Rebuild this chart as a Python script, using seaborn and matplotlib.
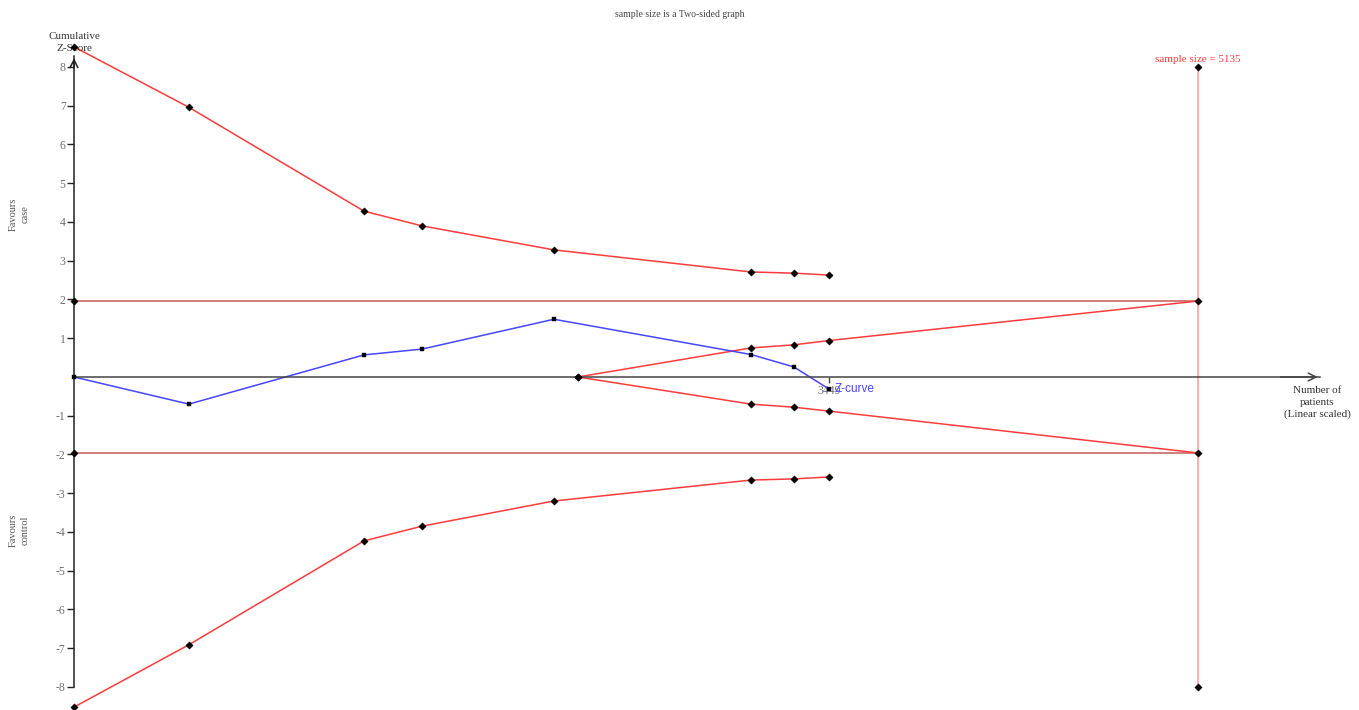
import matplotlib
matplotlib.use("Agg")
import matplotlib.pyplot as plt
import seaborn as sns

# Cumulative number of patients at each interim look
patients = [0, 525, 1325, 1590, 2193, 3093, 3289, 3449]
z_curve = [0, -0.70, 0.57, 0.72, 1.49, 0.58, 0.26, -0.31]

# Monitoring boundaries
upper_bound = [8.52, 6.96, 4.28, 3.90, 3.28, 2.71, 2.68, 2.63]
lower_bound = [-8.52, -6.91, -4.23, -3.85, -3.20, -2.66, -2.63, -2.58]

# Futility (inner wedge)
fut_patients = [2302, 3093, 3289, 3449, 5135]
fut_upper = [0, 0.75, 0.83, 0.94, 1.96]
fut_lower = [0, -0.70, -0.78, -0.88, -1.96]

sample_size = 5135
z_crit = 1.96
y_ticks = [-8, -7, -6, -5, -4, -3, -2, -1, 1, 2, 3, 4, 5, 6, 7, 8]
x_ticks = [3449]

sns.set_style("white")
plt.rcParams["font.family"] = ["Liberation Serif", "DejaVu Serif"]

fig = plt.figure(figsize=(13.59, 7.10), dpi=100)
ax = fig.add_axes([0, 0, 1, 1])
ax.set_xlim(-338, 5871)
ax.set_ylim(-8.594, 9.729)

red = "#ff3b3b"
dark_red = "#c85a5a"
pink = "#ff9a9a"
blue = "#4646ff"

# conventional boundaries and sample size line
ax.plot([0, sample_size], [z_crit, z_crit], color=dark_red, lw=1.1)
ax.plot([0, sample_size], [-z_crit, -z_crit], color=dark_red, lw=1.1)
ax.plot([sample_size, sample_size], [-8, 8], color=pink, lw=1.1)

# alpha spending boundaries
sns.lineplot(x=patients, y=upper_bound, ax=ax, color=red, lw=1.1, estimator=None, sort=False)
sns.lineplot(x=patients, y=lower_bound, ax=ax, color=red, lw=1.1, estimator=None, sort=False)
sns.lineplot(x=fut_patients, y=fut_upper, ax=ax, color=red, lw=1.1, estimator=None, sort=False)
sns.lineplot(x=fut_patients, y=fut_lower, ax=ax, color=red, lw=1.1, estimator=None, sort=False)

# Z-curve
sns.lineplot(x=patients, y=z_curve, ax=ax, color=blue, lw=1.1, estimator=None, sort=False)

# markers
pts_x = patients + patients + fut_patients + fut_patients + [0, 0, sample_size, sample_size]
pts_y = upper_bound + lower_bound + fut_upper + fut_lower + [z_crit, -z_crit, 8, -8]
sns.scatterplot(x=pts_x, y=pts_y, ax=ax, marker="D", s=14, color="black", edgecolor="black", zorder=5)
sns.scatterplot(x=patients, y=z_curve, ax=ax, marker="s", s=12, color="black", edgecolor="black", zorder=6)

# axes
for side in ["top", "right"]:
    ax.spines[side].set_visible(False)
ax.spines["left"].set_position(("data", 0))
ax.spines["bottom"].set_position(("data", 0))
ax.spines["left"].set_bounds(-8, 8.28)
ax.spines["bottom"].set_bounds(0, 5692)
ax.spines["left"].set_color("#222222")
ax.spines["bottom"].set_color("#444444")
ax.spines["left"].set_linewidth(1.1)
ax.spines["bottom"].set_linewidth(1.1)
ax.annotate("", xy=(0, 8.30), xytext=(0, 7.9),
            arrowprops=dict(arrowstyle="->", color="#222222", lw=1.1, mutation_scale=14))
ax.annotate("", xy=(5695, 0), xytext=(5500, 0),
            arrowprops=dict(arrowstyle="->", color="#444444", lw=1.1, mutation_scale=14))

ax.set_yticks(y_ticks)
ax.set_yticklabels([str(t) for t in y_ticks])
ax.set_xticks(x_ticks)
ax.set_xticklabels([str(t) for t in x_ticks])
ax.tick_params(axis="y", direction="out", length=5, width=1, color="#222222",
               labelcolor="#707070", labelsize=8.5, pad=1, left=True)
ax.tick_params(axis="x", direction="out", length=4, width=1, color="#444444",
               labelcolor="#707070", labelsize=8.5, pad=2, bottom=True)

# texts
fig.text(0.5, 0.979, "sample size is a Two-sided graph", ha="center", va="center",
         fontsize=7, color="#444444")
ax.text(0, 8.64, "Cumulative\nZ-Score", ha="center", va="center", fontsize=8,
        color="#333333", linespacing=1.4)
ax.text(5680, -0.66, "Number of\npatients\n(Linear scaled)", ha="center", va="center",
        fontsize=8, color="#333333", linespacing=1.4)
ax.text(sample_size, 8.2, "sample size = 5135", ha="center", va="center", fontsize=8, color=red)
ax.text(-250, 4.2, "Favours\ncase", ha="center", va="center", rotation=90, fontsize=7.5,
        color="#555555", linespacing=1.4)
ax.text(-250, -3.95, "Favours\ncontrol", ha="center", va="center", rotation=90, fontsize=7.5,
        color="#555555", linespacing=1.4)
ax.text(3475, -0.31, "Z-curve", ha="left", va="center", fontsize=8.5, color=blue,
        family=["Liberation Sans", "DejaVu Sans"])

fig.savefig("out.png", dpi=100)
